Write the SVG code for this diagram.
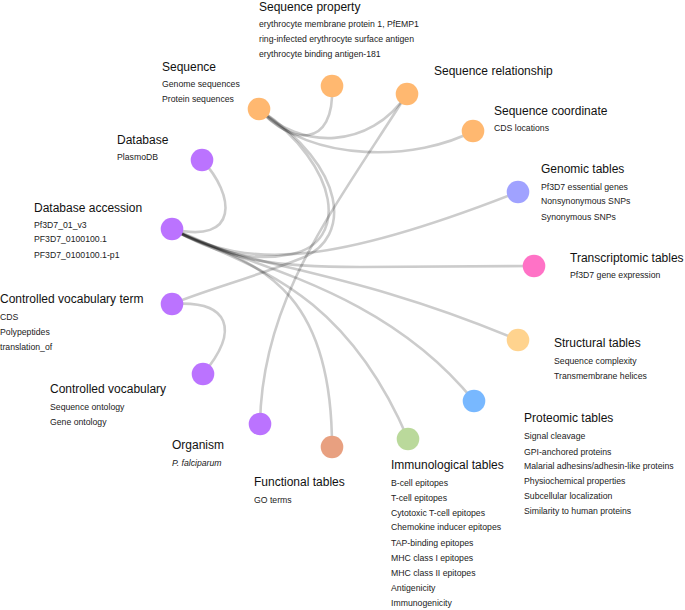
<svg xmlns="http://www.w3.org/2000/svg" width="685" height="610" viewBox="0 0 685 610">
<style>
.e{fill:none;stroke:#000;stroke-opacity:0.2;stroke-width:2.6;stroke-linecap:round}
.t{font-family:"Liberation Sans",Arial,Helvetica,sans-serif;font-size:12px;fill:#111}
.i{font-family:"Liberation Sans",Arial,Helvetica,sans-serif;font-size:8.7px;fill:#222}
.seq{fill:#FFB870}
.pur{fill:#BB73FF}
</style>
<rect width="685" height="610" fill="#fff"/>
<g id="connectors">
<path class="e" d="M259,109 C290,145 335,150 332,86"/>
<path class="e" d="M259,109 C300,150 370,150 407,94"/>
<path class="e" d="M259,109 C310,165 420,160 473,131"/>
<path class="e" d="M259,109 C342,168 348,242 292,254 S205,240 172,229"/>
<path class="e" d="M259,109 C348,168 352,238 302,258 S205,290 172,304"/>
<path class="e" d="M202,160 C235,195 240,245 172,229"/>
<path class="e" d="M172,229 C250,272 340,262 518,192"/>
<path class="e" d="M172,229 C230,262 280,267 360,267 L534,266"/>
<path class="e" d="M172,229 C240,268 340,265 518,340"/>
<path class="e" d="M172,229 C240,265 380,285 474,401"/>
<path class="e" d="M172,229 C240,265 340,280 408,439"/>
<path class="e" d="M172,229 C240,262 332,270 332,447"/>
<path class="e" d="M172,304 C230,300 240,330 203,374"/>
<path class="e" d="M407,94 C330,215 262,300 260,424"/>
</g>
<g id="sequence-property">
<circle class="seq" cx="332" cy="86" r="11.3"/>
<text class="t" x="259" y="11">Sequence property</text>
<text class="i" x="259" y="27">erythrocyte membrane protein 1, PfEMP1</text>
<text class="i" x="259" y="42">ring-infected erythrocyte surface antigen</text>
<text class="i" x="259" y="57">erythrocyte binding antigen-181</text>
</g>
<g id="sequence">
<circle class="seq" cx="259" cy="109" r="11.3"/>
<text class="t" x="162" y="71">Sequence</text>
<text class="i" x="162" y="87">Genome sequences</text>
<text class="i" x="162" y="102">Protein sequences</text>
</g>
<g id="sequence-relationship">
<circle class="seq" cx="407" cy="94" r="11.3"/>
<text class="t" x="434" y="75">Sequence relationship</text>
</g>
<g id="sequence-coordinate">
<circle class="seq" cx="473" cy="131" r="11.3"/>
<text class="t" x="494" y="115">Sequence coordinate</text>
<text class="i" x="494" y="131">CDS locations</text>
</g>
<g id="database">
<circle class="pur" cx="202" cy="160" r="11.3"/>
<text class="t" x="117" y="144">Database</text>
<text class="i" x="117" y="160">PlasmoDB</text>
</g>
<g id="database-accession">
<circle class="pur" cx="172" cy="229" r="11.3"/>
<text class="t" x="34" y="212">Database accession</text>
<text class="i" x="34" y="228">Pf3D7_01_v3</text>
<text class="i" x="34" y="242">PF3D7_0100100.1</text>
<text class="i" x="34" y="258">PF3D7_0100100.1-p1</text>
</g>
<g id="controlled-vocabulary-term">
<circle class="pur" cx="172" cy="304" r="11.3"/>
<text class="t" x="0" y="303">Controlled vocabulary term</text>
<text class="i" x="0" y="320">CDS</text>
<text class="i" x="0" y="335">Polypeptides</text>
<text class="i" x="0" y="350">translation_of</text>
</g>
<g id="controlled-vocabulary">
<circle class="pur" cx="203" cy="374" r="11.3"/>
<text class="t" x="50" y="393">Controlled vocabulary</text>
<text class="i" x="50" y="410">Sequence ontology</text>
<text class="i" x="50" y="425">Gene ontology</text>
</g>
<g id="organism">
<circle class="pur" cx="260" cy="424" r="11.3"/>
<text class="t" x="172" y="449">Organism</text>
<text class="i" x="172" y="466" font-style="italic">P. falciparum</text>
</g>
<g id="functional-tables">
<circle cx="332" cy="447" r="11.3" fill="#E8A080"/>
<text class="t" x="254" y="486">Functional tables</text>
<text class="i" x="254" y="503">GO terms</text>
</g>
<g id="immunological-tables">
<circle cx="408" cy="439" r="11.3" fill="#BAD99B"/>
<text class="t" x="391" y="469">Immunological tables</text>
<text class="i" x="391" y="486">B-cell epitopes</text>
<text class="i" x="391" y="501">T-cell epitopes</text>
<text class="i" x="391" y="516">Cytotoxic T-cell epitopes</text>
<text class="i" x="391" y="530">Chemokine inducer epitopes</text>
<text class="i" x="391" y="546">TAP-binding epitopes</text>
<text class="i" x="391" y="561">MHC class I epitopes</text>
<text class="i" x="391" y="576">MHC class II epitopes</text>
<text class="i" x="391" y="591">Antigenicity</text>
<text class="i" x="391" y="606">Immunogenicity</text>
</g>
<g id="proteomic-tables">
<circle cx="474" cy="401" r="11.3" fill="#78B8FF"/>
<text class="t" x="524" y="422">Proteomic tables</text>
<text class="i" x="524" y="439">Signal cleavage</text>
<text class="i" x="524" y="455">GPI-anchored proteins</text>
<text class="i" x="524" y="469">Malarial adhesins/adhesin-like proteins</text>
<text class="i" x="524" y="484">Physiochemical properties</text>
<text class="i" x="524" y="499">Subcellular localization</text>
<text class="i" x="524" y="514">Similarity to human proteins</text>
</g>
<g id="structural-tables">
<circle cx="518" cy="340" r="11.3" fill="#FFD38E"/>
<text class="t" x="554" y="347">Structural tables</text>
<text class="i" x="554" y="364">Sequence complexity</text>
<text class="i" x="554" y="379">Transmembrane helices</text>
</g>
<g id="transcriptomic-tables">
<circle cx="534" cy="266" r="11.3" fill="#FF72C6"/>
<text class="t" x="570" y="262">Transcriptomic tables</text>
<text class="i" x="570" y="278">Pf3D7 gene expression</text>
</g>
<g id="genomic-tables">
<circle cx="518" cy="192" r="11.3" fill="#A0A2FF"/>
<text class="t" x="541" y="173">Genomic tables</text>
<text class="i" x="541" y="190">Pf3D7 essential genes</text>
<text class="i" x="541" y="204">Nonsynonymous SNPs</text>
<text class="i" x="541" y="220">Synonymous SNPs</text>
</g>
</svg>
